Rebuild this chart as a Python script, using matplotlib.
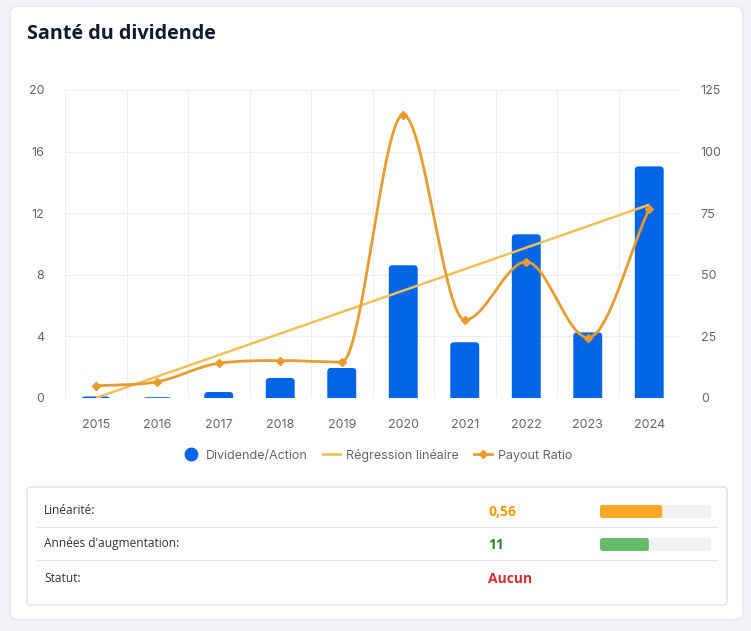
import matplotlib
matplotlib.use("Agg")
import matplotlib.pyplot as plt
import numpy as np
from matplotlib.patches import FancyBboxPatch
from matplotlib.lines import Line2D

years = ["2015", "2016", "2017", "2018", "2019", "2020", "2021", "2022", "2023", "2024"]
dividend = [0.10, 0.05, 0.39, 1.30, 1.95, 8.62, 3.62, 10.63, 4.26, 15.04]
payout = [4.9, 6.6, 14.1, 15.2, 14.6, 114.9, 31.7, 55.3, 24.5, 76.7]
regression_ends = [0.0, 12.55]  # values at first and last year

stat_labels = ["Linéarité:", "Années d'augmentation:", "Statut:"]
stat_values = ["0,56", "11", "Aucun"]
stat_colors = ["#f39c12", "#2e7d32", "#d32f2f"]
stat_fill = [0.56, 0.44, None]
bar_colors = ["#ffa726", "#66bb6a", None]

W, H = 751, 631
BLUE = "#0066e6"
ORANGE = "#e89b2f"
YELLOW = "#f0c05a"
TICK = "#666666"
GRID = "#eeeeee"


def fx(px):
    return px / W


def fy(py):
    return 1 - py / H


def monotone_curve(xs, ys, steps=40):
    # monotone cubic (Fritsch-Carlson), like chart.js cubicInterpolationMode 'monotone'
    xs = np.asarray(xs, float)
    ys = np.asarray(ys, float)
    n = len(xs)
    dx = np.diff(xs)
    delta = np.diff(ys) / dx
    m = np.zeros(n)
    m[0] = delta[0]
    m[-1] = delta[-1]
    for i in range(1, n - 1):
        if delta[i - 1] * delta[i] > 0:
            m[i] = (delta[i - 1] + delta[i]) / 2
    for i in range(n - 1):
        if delta[i] == 0:
            m[i] = m[i + 1] = 0
            continue
        a = m[i] / delta[i]
        b = m[i + 1] / delta[i]
        s = a * a + b * b
        if s > 9:
            tau = 3 / np.sqrt(s)
            m[i] = tau * a * delta[i]
            m[i + 1] = tau * b * delta[i]
    out_x, out_y = [], []
    t = np.linspace(0, 1, steps)
    for i in range(n - 1):
        h = dx[i]
        h00 = 2 * t ** 3 - 3 * t ** 2 + 1
        h10 = t ** 3 - 2 * t ** 2 + t
        h01 = -2 * t ** 3 + 3 * t ** 2
        h11 = t ** 3 - t ** 2
        out_x.append(xs[i] + t * h)
        out_y.append(h00 * ys[i] + h10 * h * m[i] + h01 * ys[i + 1] + h11 * h * m[i + 1])
    return np.concatenate(out_x), np.concatenate(out_y)


fig = plt.figure(figsize=(W / 100, H / 100), dpi=100)
fig.patch.set_facecolor("#f3f4f7")

# white card
fig.patches.append(FancyBboxPatch((fx(10), fy(620)), fx(733), (620 - 6) / H,
                                  boxstyle="round,pad=0,rounding_size=0.012",
                                  transform=fig.transFigure, facecolor="white",
                                  edgecolor="#e6e8ec", linewidth=1, zorder=-5))

fig.text(fx(27), fy(34), "Santé du dividende", fontsize=14.2, fontweight="bold",
         color="#0f1b2d", family="Open Sans", va="center", ha="left")

# chart
ax = fig.add_axes([fx(65), fy(398), fx(680 - 65), (398 - 90) / H])
ax2 = ax.twinx()
x = np.arange(len(years))

ax.set_xlim(-0.5, len(years) - 0.5)
ax.set_ylim(0, 20)
ax2.set_ylim(0, 125)
ax.set_yticks([0, 4, 8, 12, 16, 20])
ax2.set_yticks([0, 25, 50, 75, 100, 125])
ax.set_xticks(x)
ax.set_xticklabels(years)
ax.set_xticks(np.arange(-0.5, len(years)), minor=True)

for a in (ax, ax2):
    for s in a.spines.values():
        s.set_visible(False)
    a.tick_params(which="both", length=0, colors=TICK, labelsize=9)
    for lab in a.get_xticklabels() + a.get_yticklabels():
        lab.set_family("Inter")
ax.tick_params(axis="x", pad=15)
ax.tick_params(axis="y", pad=15)
ax2.tick_params(axis="y", pad=15)
ax.grid(True, axis="y", color=GRID, linewidth=0.8)
ax.grid(True, axis="x", which="minor", color=GRID, linewidth=0.8)
ax.grid(False, axis="x", which="major")
ax.set_axisbelow(True)

# bars with rounded tops
bars = ax.bar(x, dividend, width=0.47, color=BLUE, zorder=2)
r_x = 0.06
aspect = (20 / 308) / (len(years) / 615)
for b in bars:
    bx, bw, bh = b.get_x(), b.get_width(), b.get_height()
    b.set_visible(False)
    p = FancyBboxPatch((bx, -1), bw, bh + 1,
                       boxstyle=f"round,pad=0,rounding_size={r_x}",
                       mutation_aspect=aspect, facecolor=BLUE, edgecolor="none",
                       zorder=2)
    ax.add_patch(p)
    p.set_clip_path(ax.patch)

# regression line
ax.plot([x[0], x[-1]], regression_ends, color=YELLOW, linewidth=1.8, zorder=3,
        solid_capstyle="butt")

# payout ratio
ax2.patch.set_visible(False)
cx, cy = monotone_curve(x, payout)
ax2.plot(cx, cy, color=ORANGE, linewidth=2, zorder=4, clip_on=False)
ax2.plot(x, payout, linestyle="none", marker="D", markersize=4.5, color=ORANGE,
         zorder=5, clip_on=False)

# legend
handles = [
    Line2D([], [], linestyle="none", marker="o", markersize=9, color=BLUE),
    Line2D([], [], color=YELLOW, linewidth=2),
    Line2D([], [], color=ORANGE, linewidth=2, marker="D", markersize=4),
]
leg = fig.legend(handles, ["Dividende/Action", "Régression linéaire", "Payout Ratio"],
                 loc="center", bbox_to_anchor=(fx(377), fy(455)), ncol=3,
                 frameon=False, handlelength=1.4, handletextpad=0.5,
                 columnspacing=1.2, prop={"family": "Inter", "size": 9})
for txt in leg.get_texts():
    txt.set_color(TICK)

# stats box
fig.patches.append(FancyBboxPatch((fx(27), fy(605)), fx(700), (605 - 487) / H,
                                  boxstyle="round,pad=0,rounding_size=0.006",
                                  transform=fig.transFigure, facecolor="white",
                                  edgecolor="#dfe2e6", linewidth=1, zorder=1))
row_y = [511, 544, 578]
for yy in (527, 560):
    fig.add_artist(Line2D([fx(37), fx(717)], [fy(yy), fy(yy)], color="#e3e3e3",
                          linewidth=0.9, transform=fig.transFigure))
for i, yy in enumerate(row_y):
    fig.text(fx(44), fy(yy), stat_labels[i], fontsize=8.6, family="Open Sans",
             color="#333333", va="center", ha="left")
    fig.text(fx(488), fy(yy + 1), stat_values[i], fontsize=10, family="Open Sans",
             fontweight="bold", color=stat_colors[i], va="center", ha="left")
    if stat_fill[i] is not None:
        bw = 711 - 600
        fig.patches.append(FancyBboxPatch((fx(600), fy(yy + 7)), fx(bw), 13 / H,
                                          boxstyle="round,pad=0,rounding_size=0.004",
                                          transform=fig.transFigure, facecolor="#f2f2f2",
                                          edgecolor="none", zorder=2))
        fig.patches.append(FancyBboxPatch((fx(600), fy(yy + 7)), fx(bw * stat_fill[i]), 13 / H,
                                          boxstyle="round,pad=0,rounding_size=0.004",
                                          transform=fig.transFigure, facecolor=bar_colors[i],
                                          edgecolor="none", zorder=3))

fig.savefig("out.png", dpi=100, facecolor=fig.get_facecolor())
